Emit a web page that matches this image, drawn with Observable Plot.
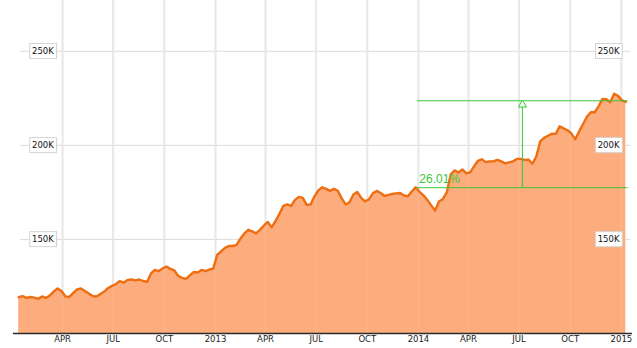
<!DOCTYPE html>
<html><head><meta charset="utf-8">
<script src="https://cdn.jsdelivr.net/npm/d3@7"></script>
<script src="https://cdn.jsdelivr.net/npm/@observablehq/plot@0.6"></script>
<style>body{margin:0;background:#fff}</style>
</head><body><div id="chart"></div>
<script>
const dates = [
"2012-01-13","2012-01-20","2012-01-27","2012-02-03","2012-02-10","2012-02-17","2012-02-24","2012-03-02","2012-03-09","2012-03-16","2012-03-23","2012-03-30","2012-04-06","2012-04-13","2012-04-20","2012-04-27","2012-05-04","2012-05-11","2012-05-18","2012-05-25","2012-06-01","2012-06-08","2012-06-15","2012-06-22","2012-06-29","2012-07-06","2012-07-13","2012-07-20","2012-07-27","2012-08-03","2012-08-10","2012-08-17","2012-08-24","2012-08-31","2012-09-07","2012-09-14","2012-09-21","2012-09-28","2012-10-05","2012-10-12","2012-10-19","2012-10-26","2012-11-02","2012-11-09","2012-11-16","2012-11-23","2012-11-30","2012-12-07","2012-12-14","2012-12-21","2012-12-28",
"2013-01-04","2013-01-11","2013-01-18","2013-01-25","2013-02-01","2013-02-08","2013-02-15","2013-02-22","2013-03-01","2013-03-08","2013-03-15","2013-03-22","2013-03-29","2013-04-05","2013-04-12","2013-04-19","2013-04-26","2013-05-03","2013-05-10","2013-05-17","2013-05-24","2013-05-31","2013-06-07","2013-06-14","2013-06-21","2013-06-28","2013-07-05","2013-07-12","2013-07-19","2013-07-26","2013-08-02","2013-08-09","2013-08-16","2013-08-23","2013-08-30","2013-09-06","2013-09-13","2013-09-20","2013-09-27","2013-10-04","2013-10-11","2013-10-18","2013-10-25","2013-11-01","2013-11-08","2013-11-15","2013-11-22","2013-11-29","2013-12-06","2013-12-13","2013-12-20","2013-12-27",
"2014-01-03","2014-01-10","2014-01-17","2014-01-24","2014-01-31","2014-02-07","2014-02-14","2014-02-21","2014-02-28","2014-03-07","2014-03-14","2014-03-21","2014-03-28","2014-04-04","2014-04-11","2014-04-18","2014-04-25","2014-05-02","2014-05-09","2014-05-16","2014-05-23","2014-05-30","2014-06-06","2014-06-13","2014-06-20","2014-06-27","2014-07-04","2014-07-11","2014-07-18","2014-07-25","2014-08-01","2014-08-08","2014-08-15","2014-08-22","2014-08-29","2014-09-05","2014-09-12","2014-09-19","2014-09-26","2014-10-03","2014-10-10","2014-10-17","2014-10-24","2014-10-31","2014-11-07","2014-11-14","2014-11-21","2014-11-28","2014-12-05","2014-12-12","2014-12-19","2014-12-26",
"2015-01-02","2015-01-09"];
// values in thousands
const values = [
119.3,119.9,118.9,119.4,119.1,118.4,119.7,118.9,120.2,122.3,
123.9,122.6,119.7,119.4,121.5,123.4,123.9,122.6,121.3,119.9,
119.7,121.0,122.3,124.2,125.3,126.3,127.9,127.1,128.5,128.7,
128.2,128.7,127.9,127.4,131.9,133.8,133.2,134.6,135.6,134.3,
133.5,130.6,129.5,129.0,130.9,132.7,132.4,133.8,133.2,134.0,134.5,
141.8,143.6,145.5,146.5,146.5,147.1,150.5,153.2,155.1,154.3,
153.2,155.1,157.4,159.3,156.4,159.8,163.6,167.8,168.6,167.8,
171.0,172.6,172.1,168.4,168.6,172.9,176.1,177.7,176.9,175.8,
176.9,175.8,171.8,168.6,169.7,173.9,175.2,172.1,170.2,171.3,
174.5,175.8,174.7,173.1,173.7,174.2,174.5,174.7,173.4,172.9,
175.5,177.7,
175.3,173.4,171.0,168.1,165.4,170.2,171.5,175.0,184.6,186.7,
185.6,187.2,185.1,185.6,188.8,191.8,192.6,191.1,191.5,191.5,
192.3,191.5,190.4,191.0,191.5,192.8,192.8,192.3,192.4,190.2,
194.1,202.1,204.0,205.1,206.2,206.1,210.1,209.0,208.0,206.4,
203.2,207.4,211.2,215.2,217.6,217.6,220.7,224.7,224.5,222.9,
227.4,226.3,
223.9,223.1];
const tickDates = ["2012-04-01","2012-07-01","2012-10-01","2013-01-01","2013-04-01","2013-07-01","2013-10-01","2014-01-01","2014-04-01","2014-07-01","2014-10-01","2015-01-01"];
const tickLabels = ["APR","JUL","OCT","2013","APR","JUL","OCT","2014","APR","JUL","OCT","2015"];
const yTicks = [150, 200, 250];
const yTickLabels = ["150K","200K","250K"];
const measureStart = "2013-12-30";
const measureEnd = "2015-01-13";
const measureAt = "2014-07-07";
const measureLow = 177.5;
const measureHigh = 223.7;
const measureLabel = "26.01%";

const data = dates.map((d, i) => ({date: new Date(d), value: values[i]}));
const ticks = tickDates.map((d, i) => ({date: new Date(d), label: tickLabels[i]}));
const yt = yTicks.map((v, i) => ({v, label: yTickLabels[i]}));
const green = "#3ac83a";
const font = "DejaVu Sans";

const svg = Plot.plot({
  width: 637, height: 348,
  marginLeft: 11.5, marginRight: 5, marginTop: 0, marginBottom: 15,
  x: {type: "utc", domain: [new Date("2012-01-01"), new Date("2015-01-21")], axis: null},
  y: {domain: [100, 277], axis: null},
  style: {fontFamily: font, background: "#fff"},
  marks: [
    Plot.ruleY(yTicks, {stroke: "#dcdcdc", strokeWidth: 1, insetLeft: 8.5, insetRight: 2}),
    Plot.ruleX(ticks, {x: "date", stroke: "#e6e6e6", strokeWidth: 2}),
    Plot.area(data, {x1: "date", y1: () => 100, y2: "value", fill: "#fdac7e"}),
    Plot.ruleX(ticks, {x: "date", stroke: "#fff", strokeOpacity: 0.08, strokeWidth: 2}),
    Plot.line(data, {x: "date", y: "value", stroke: "#ee6e12", strokeWidth: 2.4, strokeLinejoin: "round"}),
    Plot.ruleY([100], {stroke: "#2e2a28", strokeWidth: 1.5, insetLeft: 1.5}),
    Plot.text(ticks, {x: "date", text: "label", frameAnchor: "bottom", dy: 8, fontSize: 8.5, fill: "#222", fontFamily: font}),
    Plot.text(yt, {y: "v", text: "label", frameAnchor: "left", textAnchor: "start", dx: 20, fontSize: 8.5, fill: "#111", fontFamily: font}),
    Plot.text(yt, {y: "v", text: "label", frameAnchor: "right", textAnchor: "end", dx: -13, fontSize: 8.5, fill: "#111", fontFamily: font}),
    Plot.ruleY([measureLow, measureHigh], {x1: () => new Date(measureStart), x2: () => new Date(measureEnd), stroke: green, strokeWidth: 1}),
    Plot.ruleX([new Date(measureAt)], {y1: measureLow, y2: measureHigh, stroke: green, strokeWidth: 1}),
    Plot.dot([new Date(measureAt)], {x: d => d, y: () => measureHigh, symbol: "triangle", r: 3, stroke: green, fill: "#fff", strokeWidth: 1, dy: 4}),
    Plot.text([measureLabel], {x: () => new Date(measureStart), y: () => measureLow, text: d => d, textAnchor: "start", lineAnchor: "bottom", dx: 2, dy: -5, fontSize: 12, fill: green, fontFamily: "Liberation Sans"})
  ]
});
document.getElementById("chart").append(svg);

d3.select(svg).selectAll("text").filter(function() {
  return yTickLabels.includes(this.textContent);
}).each(function() {
  const b = this.getBBox();
  const r = document.createElementNS("http://www.w3.org/2000/svg", "rect");
  const w = b.width + 4.5, h = 15;
  r.setAttribute("x", b.x - 2.2);
  r.setAttribute("y", b.y + b.height / 2 - h / 2);
  r.setAttribute("width", w);
  r.setAttribute("height", h);
  r.setAttribute("fill", "#fff");
  r.setAttribute("stroke", "#d4d4d4");
  r.setAttribute("stroke-width", 1);
  const t = this.getAttribute("transform");
  if (t) r.setAttribute("transform", t);
  this.parentNode.insertBefore(r, this);
});
</script>
</body></html>
